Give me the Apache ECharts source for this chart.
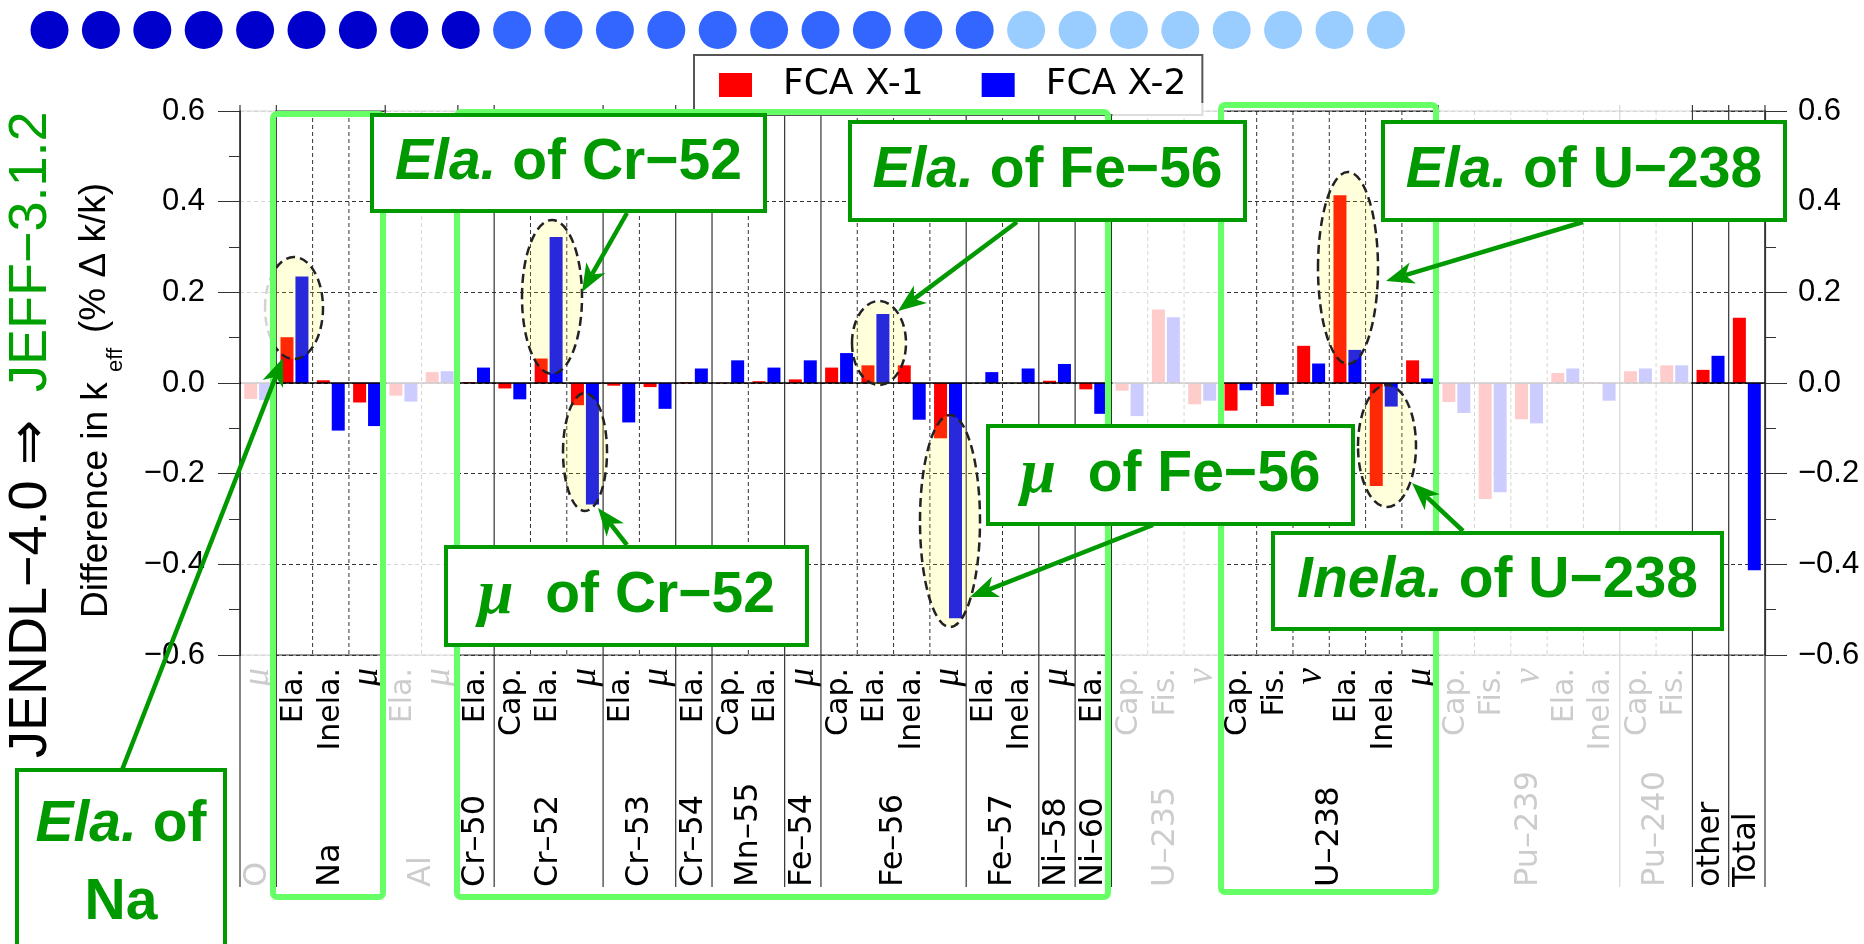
<!DOCTYPE html>
<html><head><meta charset="utf-8">
<script src="https://cdn.jsdelivr.net/npm/echarts@6/dist/echarts.min.js"></script>
<style>html,body{margin:0;padding:0;background:#fff}#c{width:1864px;height:944px}</style>
</head><body><div id="c"></div>
<script>
// ---------- data ----------
const nuclides = ['O','Na','Al','Cr–50','Cr–52','Cr–53','Cr–54','Mn–55','Fe–54','Fe–56','Fe–57','Ni–58','Ni–60','U–235','U–238','Pu–239','Pu–240','other','Total'];
const reactions = [
  ['μ'], ['Ela.','Inela.','μ'], ['Ela.','μ'], ['Ela.'], ['Cap.','Ela.','μ'], ['Ela.','μ'], ['Ela.'],
  ['Cap.','Ela.'], ['μ'], ['Cap.','Ela.','Inela.','μ'], ['Ela.','Inela.'], ['μ'], ['Ela.'],
  ['Cap.','Fis.','ν'], ['Cap.','Fis.','ν','Ela.','Inela.','μ'], ['Cap.','Fis.','ν','Ela.','Inela.'],
  ['Cap.','Fis.'], [''], ['']
];
const fadedNuclides = ['O','Al','U–235','Pu–239','Pu–240'];
const seriesNames = ['FCA X-1','FCA X-2'];
const fcaX1 = [-0.035, 0.101, 0.006,-0.043,-0.028, 0.024, 0.002,-0.012, 0.054,-0.049,
               -0.006,-0.009, 0.002, 0.001, 0.004, 0.008, 0.034, 0.039, 0.039,-0.122,
                0.000, 0.000, 0.005,-0.014,-0.017, 0.162,-0.047,-0.061,-0.051, 0.082,
                0.414,-0.227, 0.050,-0.042,-0.256,-0.080, 0.022, 0.002, 0.026, 0.039,
                0.029, 0.144];
const fcaX2 = [-0.038, 0.235,-0.105,-0.095,-0.041, 0.026, 0.034,-0.036, 0.322,-0.268,
               -0.087,-0.057, 0.032, 0.050, 0.034, 0.050, 0.066, 0.152,-0.081,-0.519,
                0.024, 0.032, 0.042,-0.068,-0.073, 0.145,-0.039,-0.016,-0.026, 0.043,
                0.073,-0.052, 0.010,-0.066,-0.241,-0.089, 0.032,-0.039, 0.032, 0.039,
                0.060,-0.413];
const yMin = -0.6, yMax = 0.6, yStep = 0.2;

// ---------- derived ----------
const FONT = "'Liberation Sans', Arial, sans-serif";
const LFONT = "'DejaVu Sans', sans-serif";
const catLabels = reactions.flat();
const nucStart = []; let acc = 0;
reactions.forEach(r => { nucStart.push(acc); acc += r.length; });
const nucLabelAtHalf = {};
nuclides.forEach((n, i) => { nucLabelAtHalf[2 * nucStart[i] + reactions[i].length] = n; });
const fmtY = v => (v < -1e-9 ? '−' : '') + Math.abs(v).toFixed(1);

const chart = echarts.init(document.getElementById('c'));
const yAxisBase = {
  type: 'value', min: yMin, max: yMax, interval: yStep,
  axisLine: {show: true, lineStyle: {color: '#333', width: 1.2}},
  axisTick: {show: true, length: 22, lineStyle: {color: '#333'}},
  minorTick: {show: true, splitNumber: 2, length: 11, lineStyle: {color: '#333'}},
  axisLabel: {fontSize: 31, fontFamily: FONT, color: '#000', formatter: fmtY}
};
chart.setOption({
  animation: false,
  backgroundColor: '#fff',
  grid: {left: 240, right: 99, top: 111, bottom: 289, show: true, borderColor: '#333', borderWidth: 1.2},
  legend: {
    left: 694, top: 55, icon: 'rect', itemWidth: 33, itemHeight: 24, itemGap: 58,
    padding: [12, 16, 12, 25], borderColor: '#555', borderWidth: 2, backgroundColor: '#fff',
    textStyle: {fontSize: 36, fontFamily: LFONT, color: '#000', lineHeight: 24, padding: [0, 0, 0, 26]},
    data: seriesNames
  },
  xAxis: [
    {type: 'category', data: catLabels.map((_, i) => String(i)), boundaryGap: true,
     axisLine: {show: false}, axisTick: {show: false}, splitLine: {show: false},
     axisLabel: {interval: 0, rotate: 90, margin: 13, fontSize: 30, fontFamily: LFONT, color: '#000',
       formatter: v => { const s = catLabels[+v]; return (s === 'μ' || s === 'ν') ? '{g|' + s + '}' : s; },
       rich: {g: {fontFamily: "'Liberation Serif', serif", fontStyle: 'italic', fontSize: 37, color: '#000'}}}},
    {type: 'value', min: 0, max: catLabels.length, interval: 0.5, position: 'bottom', offset: 232,
     axisLine: {show: false}, axisTick: {show: false}, splitLine: {show: false},
     axisLabel: {rotate: 90, align: 'left', verticalAlign: 'middle', margin: 0, fontSize: 32,
       fontFamily: LFONT, color: '#000', formatter: v => nucLabelAtHalf[Math.round(v * 2)] || ''}}
  ],
  yAxis: [
    Object.assign({}, yAxisBase, {position: 'left',
      splitLine: {show: true, lineStyle: {color: '#333', type: [4, 3], width: 1}},
      axisLabel: Object.assign({}, yAxisBase.axisLabel, {margin: 35})}),
    Object.assign({}, yAxisBase, {position: 'right', splitLine: {show: false},
      axisLabel: Object.assign({}, yAxisBase.axisLabel, {margin: 33})})
  ],
  series: [
    {name: seriesNames[0], type: 'bar', data: fcaX1, barWidth: 13, barGap: '15%',
     itemStyle: {color: '#FF0000'},
     markLine: {silent: true, symbol: 'none', label: {show: false},
       lineStyle: {color: '#000', type: 'solid', width: 1.5}, data: [{yAxis: 0}]}},
    {name: seriesNames[1], type: 'bar', data: fcaX2, barWidth: 13, barGap: '15%',
     itemStyle: {color: '#0000FF'}}
  ]
});

// ---------- decorations / annotations ----------
const c0 = chart.convertToPixel({xAxisIndex: 0}, 0);
const c1 = chart.convertToPixel({xAxisIndex: 0}, 1);
const cw = c1 - c0;
const bound = k => c0 - cw / 2 + k * cw;
const yTop = chart.convertToPixel({yAxisIndex: 0}, yMax);
const yBot = chart.convertToPixel({yAxisIndex: 0}, yMin);
const labelBottom = yBot + 232;
const G = [];

// separators
const nucBounds = new Set(nucStart.concat([catLabels.length]));
for (let k = 0; k <= catLabels.length; k++) {
  const x = bound(k);
  if (nucBounds.has(k)) {
    G.push({type: 'line', z: 1, shape: {x1: x, y1: yTop - 6, x2: x, y2: labelBottom},
            style: {stroke: '#333', lineWidth: 1.2}});
  } else {
    G.push({type: 'line', z: 1, shape: {x1: x, y1: yTop, x2: x, y2: yBot},
            style: {stroke: '#333', lineWidth: 1, lineDash: [4, 3]}});
  }
}

// dashed highlight ellipses
const ellipses = [[294,308,29,51],[552,297,30,77],[585,452,22,59],[879,343,27,42],[950,521,30,106],[1348,268,30,96],[1387,446,29,61]];
ellipses.forEach(e => G.push({type: 'ellipse', z: 8, shape: {cx: e[0], cy: e[1], rx: e[2], ry: e[3]},
  style: {fill: 'rgba(255,255,40,0.16)', stroke: '#222', lineWidth: 2.5, lineDash: [9, 5]}}));

// faded overlays (contiguous runs)
const isFaded = nuclides.map(n => fadedNuclides.includes(n));
for (let i = 0; i < nuclides.length; i++) {
  if (!isFaded[i]) continue;
  let j = i; while (j + 1 < nuclides.length && isFaded[j + 1]) j++;
  const xs = bound(nucStart[i]) + 1, xe = bound(nucStart[j] + reactions[j].length) - 1;
  G.push({type: 'rect', z: 10, shape: {x: xs, y: yTop - 8, width: xe - xs, height: labelBottom + 6 - (yTop - 8)},
          style: {fill: 'rgba(255,255,255,0.8)'}});
  i = j;
}

// bright green group boxes
[[273,114,110,783],[457,112,651,785],[1221,105,215,787]].forEach(b => G.push({type: 'rect', z: 20,
  shape: {x: b[0], y: b[1], width: b[2], height: b[3], r: 4}, style: {fill: 'none', stroke: '#66FF66', lineWidth: 6}}));

// callouts
const GREEN = '#009900';
const rich = {
  i: {fontFamily: FONT, fontWeight: 'bold', fontStyle: 'italic', fontSize: 57, fill: GREEN, color: GREEN},
  b: {fontFamily: FONT, fontWeight: 'bold', fontSize: 57, fill: GREEN, color: GREEN},
  m: {fontFamily: "'Liberation Serif', serif", fontWeight: 'bold', fontStyle: 'italic', fontSize: 64, fill: GREEN, color: GREEN}
};
const callouts = [
  [372,115,393,96,'{i|Ela.}{b| of Cr−52}'],
  [850,122,395,98,'{i|Ela.}{b| of Fe−56}'],
  [1383,122,402,98,'{i|Ela.}{b| of U−238}'],
  [446,547,361,98,'{m|μ}{b|  of Cr−52}'],
  [988,426,365,98,'{m|μ}{b|  of Fe−56}'],
  [1273,533,449,96,'{i|Inela.}{b| of U−238}'],
  [17,770,208,185,'{i|Ela.}{b| of}\n{b|Na}']
];
callouts.forEach(c => {
  G.push({type: 'rect', z: 22, shape: {x: c[0], y: c[1], width: c[2], height: c[3]},
          style: {fill: '#fff', stroke: GREEN, lineWidth: 4}});
  G.push({type: 'text', z: 23, x: c[0] + c[2] / 2, y: (c[4].includes('\n') ? 864 : c[1] + c[3] / 2),
          style: {text: c[4], rich: rich, align: 'center', verticalAlign: 'middle', lineHeight: 78}});
});

// arrows
function arrow(x1, y1, x2, y2) {
  const a = Math.atan2(y2 - y1, x2 - x1), L = 28, W = 11;
  const ca = Math.cos(a), sa = Math.sin(a);
  const bx = x2 - L * ca, by = y2 - L * sa, nx = x2 - 0.72 * L * ca, ny = y2 - 0.72 * L * sa;
  G.push({type: 'line', z: 30, shape: {x1: x1, y1: y1, x2: nx, y2: ny}, style: {stroke: GREEN, lineWidth: 4.5}});
  G.push({type: 'polygon', z: 30, shape: {points: [[x2, y2], [bx - sa * W, by + ca * W], [nx, ny], [bx + sa * W, by - ca * W]]},
          style: {fill: GREEN}});
}
arrow(122, 770, 283, 358);
arrow(627, 213, 582, 292);
arrow(627, 545, 598, 508);
arrow(1017, 222, 898, 311);
arrow(1153, 525, 970, 597);
arrow(1583, 222, 1386, 281);
arrow(1463, 531, 1412, 483);

// decorative dots
const dotColors = [].concat(Array(9).fill('#0000CC'), Array(10).fill('#3366FF'), Array(8).fill('#99CCFF'));
dotColors.forEach((col, i) => G.push({type: 'circle', z: 5, shape: {cx: 49.5 + 51.4 * i, cy: 30, r: 19}, style: {fill: col}}));

// left title & axis name
G.push({type: 'text', z: 5, x: 31, y: 758, rotation: Math.PI / 2,
  style: {text: 'JENDL−4.0 ⇒', fontFamily: FONT, fontSize: 54, fill: '#000', align: 'left', verticalAlign: 'middle'}});
G.push({type: 'text', z: 5, x: 31, y: 392, rotation: Math.PI / 2,
  style: {text: 'JEFF−3.1.2', fontFamily: FONT, fontSize: 54, fill: '#00A000', align: 'left', verticalAlign: 'middle'}});
G.push({type: 'text', z: 5, x: 97, y: 618, rotation: Math.PI / 2,
  style: {text: 'Difference in k', fontFamily: FONT, fontSize: 37, fill: '#000', align: 'left', verticalAlign: 'middle'}});
G.push({type: 'text', z: 5, x: 116, y: 372, rotation: Math.PI / 2,
  style: {text: 'eff', fontFamily: FONT, fontSize: 22, fill: '#000', align: 'left', verticalAlign: 'middle'}});
G.push({type: 'text', z: 5, x: 95, y: 333, rotation: Math.PI / 2,
  style: {text: '(% Δ k/k)', fontFamily: FONT, fontSize: 37, fill: '#000', align: 'left', verticalAlign: 'middle'}});

chart.setOption({graphic: {elements: G}});
</script></body></html>
